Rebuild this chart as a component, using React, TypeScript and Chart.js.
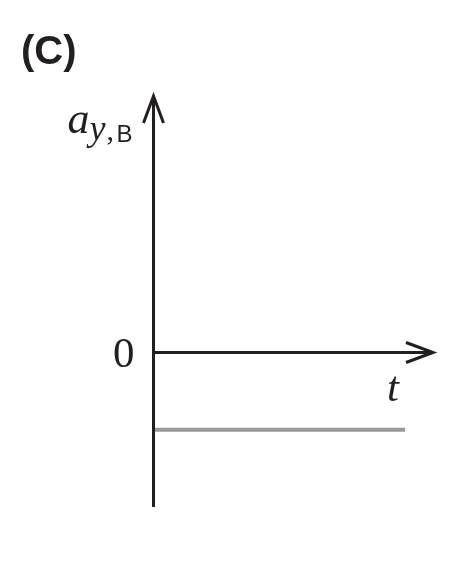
import { useEffect, useRef } from "react"
import { Chart, registerables, type Plugin } from "chart.js"
Chart.register(...registerables)

// time samples and the (constant, negative) acceleration a_y,B
const TIME = [0, 9]
const A_Y_B = [-1, -1]
// axis extents (arrow tips sit at the max ends)
const T_RANGE = [0, 10]
const A_RANGE = [-2, 3.32]

const INK = "#231f20"
const GRAY = "#9a9a9a"

// draws the two arrowed axes and the labels from the scales' origin
const axesPlugin: Plugin<"line"> = {
  id: "arrowAxes",
  afterDatasetsDraw(chart) {
    const { ctx, scales } = chart
    const ox = scales.x.getPixelForValue(0)
    const oy = scales.y.getPixelForValue(0)
    const top = scales.y.getPixelForValue(A_RANGE[1])
    const bottom = scales.y.getPixelForValue(A_RANGE[0])
    const right = scales.x.getPixelForValue(T_RANGE[1])
    const head = 27
    const half = 10

    ctx.save()
    ctx.strokeStyle = INK
    ctx.lineWidth = 3
    ctx.lineCap = "butt"
    ctx.lineJoin = "miter"

    // y axis
    ctx.beginPath()
    ctx.moveTo(ox, bottom)
    ctx.lineTo(ox, top + 1)
    ctx.stroke()
    ctx.beginPath()
    ctx.moveTo(ox - half, top + head)
    ctx.lineTo(ox, top)
    ctx.lineTo(ox + half, top + head)
    ctx.stroke()

    // x axis
    ctx.beginPath()
    ctx.moveTo(ox, oy)
    ctx.lineTo(right - 1, oy)
    ctx.stroke()
    ctx.beginPath()
    ctx.moveTo(right - head, oy - half)
    ctx.lineTo(right, oy)
    ctx.lineTo(right - head, oy + half)
    ctx.stroke()

    // labels
    ctx.fillStyle = INK
    ctx.textBaseline = "alphabetic"
    ctx.textAlign = "right"
    ctx.font = "43px 'Liberation Serif'"
    ctx.fillText("0", ox - 19, oy + 15)

    ctx.textAlign = "left"
    ctx.font = "italic 43px 'Liberation Serif'"
    ctx.fillText("t", right - 46, oy + 49)

    ctx.font = "italic 44px 'Liberation Serif'"
    ctx.fillText("a", ox - 86, top + 37)
    ctx.font = "italic 36px 'Liberation Serif'"
    ctx.fillText("y", ox - 64, top + 44)
    ctx.font = "30px 'Liberation Serif'"
    ctx.fillText(",", ox - 47, top + 44)
    ctx.font = "24px 'Liberation Sans'"
    ctx.fillText("B", ox - 37, top + 46)

    ctx.font = "bold 40px 'Liberation Sans'"
    ctx.fillText("(C)", 21, 64)
    ctx.restore()
  },
}

export default function App() {
  const canvasRef = useRef<HTMLCanvasElement>(null)

  useEffect(() => {
    const canvas = canvasRef.current
    if (!canvas) return
    document.body.style.margin = "0"

    const chart = new Chart(canvas, {
      type: "line",
      data: {
        datasets: [
          {
            data: TIME.map((t, i) => ({ x: t, y: A_Y_B[i] })),
            borderColor: GRAY,
            borderWidth: 4,
            pointRadius: 0,
            borderCapStyle: "butt",
            clip: 10,
          },
        ],
      },
      options: {
        responsive: true,
        maintainAspectRatio: false,
        animation: false,
        layout: { padding: { left: 153.5, right: 43, top: 96, bottom: 57 } },
        plugins: { legend: { display: false }, tooltip: { enabled: false } },
        scales: {
          x: { type: "linear", display: false, min: T_RANGE[0], max: T_RANGE[1] },
          y: { type: "linear", display: false, min: A_RANGE[0], max: A_RANGE[1] },
        },
      },
      plugins: [axesPlugin],
    })

    return () => chart.destroy()
  }, [])

  return (
    <div style={{ position: "fixed", left: 0, top: 0, width: 476, height: 564, background: "#fff" }}>
      <canvas ref={canvasRef} role="img" aria-label="Acceleration a_y,B versus time t" />
    </div>
  )
}
